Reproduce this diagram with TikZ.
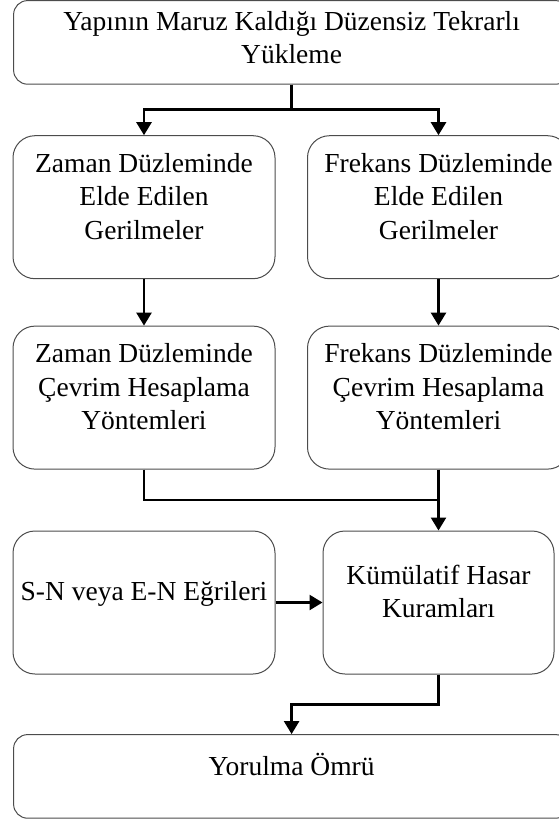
\documentclass[tikz,border=0pt]{standalone}
\usepackage{fontspec}
\setmainfont{Liberation Serif}
\usetikzlibrary{arrows.meta,calc,positioning}
\newcommand{\lowpad}[1]{\rule[-#1]{0pt}{#1}}
\tikzset{
	box/.style={draw=black!70, line width=1pt, rounded corners=22pt, align=center, inner sep=0pt,
		font=\fontsize{27.5}{33.5}\selectfont},
	widebox/.style={minimum width=556pt, minimum height=83.6pt, rounded corners=14pt},
	conn/.style={line width=2.5pt, draw=black}
}

\begin{document}
\begin{tikzpicture}[x=1pt,y=1pt]
		\useasboundingbox (0,0) rectangle (559,-819);
		\clip (0,0) rectangle (559,-819);

		\begin{scope}[every node/.style={box,minimum width=262pt,minimum height=143pt}]
			\node[widebox] (load) at (291.6,-42.4) {Yapının Maruz Kaldığı Düzensiz Tekrarlı\\Yükleme\lowpad{10pt}};
			\node (zstress) at (144,-207.2) {Zaman Düzleminde\\Elde Edilen\\Gerilmeler\lowpad{22pt}};
			\node (fstress) at (438.5,-207.2) {Frekans Düzleminde\\Elde Edilen\\Gerilmeler\lowpad{22pt}};
			\node (zcycle) at (144,-397.6) {Zaman Düzleminde\\Çevrim Hesaplama\\Yöntemleri\lowpad{22pt}};
			\node (fcycle) at (438.5,-397.6) {Frekans Düzleminde\\Çevrim Hesaplama\\Yöntemleri\lowpad{22pt}};
			\node (curve) at (144,-602.5) {S-N veya E-N Eğrileri\lowpad{23pt}};
			\node[minimum width=231pt] (damage) at (438.5,-602.5) {Kümülatif Hasar\\Kuramları\lowpad{22pt}};
			\node[widebox] (life) at (291.6,-776.4) {Yorulma Ömrü\lowpad{25pt}};
		\end{scope}

		\coordinate (merge) at ($(fcycle.south)!0.5!(damage.north)$);

		\begin{scope}[conn, >={Triangle[width=15pt,length=13pt]}]
			\draw[->] (load.south) -- ++(0,-25) -| (zstress.north);
			\draw[->] (load.south) -- ++(0,-25) -| (fstress.north);
			\draw[->] (zstress.south) -- (zcycle.north);
			\draw[->] (fstress.south) -- (fcycle.north);
			\draw (zcycle.south) |- (merge);
			\draw[->] (fcycle.south) -- (damage.north);
			\draw[->] (curve.east) -- (damage.west);
			\draw[->] (damage.south) -- ++(0,-30) -| (life.north);
		\end{scope}
	\end{tikzpicture}
\end{document}
